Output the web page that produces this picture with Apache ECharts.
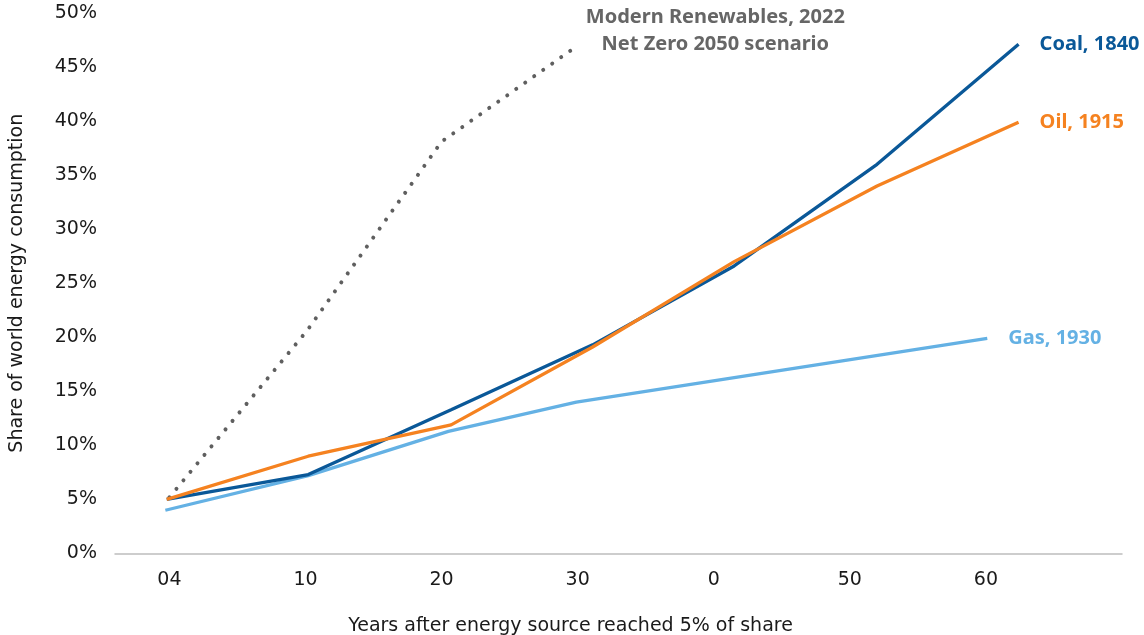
<!DOCTYPE html>
<html>
<head>
<meta charset="utf-8">
<script src="https://cdn.jsdelivr.net/npm/echarts@6/dist/echarts.min.js"></script>
<style>
html,body{margin:0;padding:0;background:#fff;}
#chart{width:1144px;height:635px;}
</style>
</head>
<body>
<div id="chart"></div>
<script>
// X tick positions (years) and their printed labels
const xTickValues = [0, 10, 20, 30, 40, 50, 60];
const xTickLabels = ['04', '10', '20', '30', '0', '50', '60'];

// Coal, 1840
const coalX = [-0.2, 10.2, 20.7, 31.1, 41.5, 52.0, 62.4];
const coalY = [5.0, 7.3, 13.3, 19.3, 26.6, 36.0, 47.1];
// Oil, 1915
const oilX = [-0.2, 10.2, 20.7, 31.1, 41.5, 52.0, 62.4];
const oilY = [5.0, 9.0, 11.9, 19.1, 27.0, 34.0, 39.9];
// Gas, 1930
const gasX = [-0.3, 10.2, 20.5, 29.9, 60.1];
const gasY = [4.0, 7.2, 11.3, 14.0, 19.9];
// Modern Renewables, 2022 Net Zero 2050 scenario
const renX = [0, 10.1, 20.0, 29.9];
const renY = [5.2, 20.6, 38.1, 46.9];

const pairs = (xs, ys) => xs.map((x, i) => [x, ys[i]]);

const FONT = 'DejaVu Sans';
const BOLD_FONT = 'Noto Sans';
const chart = echarts.init(document.getElementById('chart'));

function lineSeries(name, xs, ys, color, extra) {
  return Object.assign({
    type: 'line',
    name: name,
    data: pairs(xs, ys),
    showSymbol: false,
    symbol: 'none',
    lineStyle: { color: color, width: 3.3 },
    itemStyle: { color: color },
    endLabel: {
      show: true,
      formatter: '{a}',
      distance: 21,
      color: color,
      fontFamily: BOLD_FONT,
      fontWeight: 'bold',
      fontSize: 20
    },
    emphasis: { disabled: true },
    z: 2
  }, extra || {});
}

chart.setOption({
  animation: false,
  backgroundColor: '#ffffff',
  grid: { left: 115, right: 22, top: 13, bottom: 81.5, containLabel: false, outerBoundsMode: 'none' },
  xAxis: {
    type: 'value',
    min: -4,
    max: 70,
    splitLine: { show: false },
    axisLine: { show: true, lineStyle: { color: '#bdbdbd', width: 1.5 } },
    axisTick: { show: false },
    axisLabel: {
      customValues: xTickValues,
      formatter: function (v) {
        const i = xTickValues.indexOf(v);
        return i >= 0 ? xTickLabels[i] : '';
      },
      color: '#1a1a1a',
      fontFamily: FONT,
      fontSize: 19,
      margin: 17
    },
    name: 'Years after energy source reached 5% of share',
    nameLocation: 'middle',
    nameGap: 63,
    nameTextStyle: {
      color: '#1a1a1a',
      fontFamily: FONT,
      fontSize: 19,
      padding: [0, 96, 0, 0]
    }
  },
  yAxis: {
    type: 'value',
    min: 0,
    max: 50,
    interval: 5,
    splitLine: { show: false },
    axisLine: { show: false },
    axisTick: { show: false },
    axisLabel: {
      formatter: '{value}%',
      color: '#1a1a1a',
      fontFamily: FONT,
      fontSize: 19,
      margin: 18
    },
    name: 'Share of world energy consumption',
    nameLocation: 'middle',
    nameGap: 88,
    nameTextStyle: {
      color: '#1a1a1a',
      fontFamily: FONT,
      fontSize: 19
    }
  },
  series: [
    lineSeries('Modern Renewables, 2022\nNet Zero 2050 scenario', renX, renY, '#5f5f5f', {
      lineStyle: { color: '#5f5f5f', width: 4, type: [0.01, 11], cap: 'round' },
      endLabel: {
        show: true,
        formatter: '{a}',
        distance: 0,
        align: 'center',
        verticalAlign: 'middle',
        offset: [139, -16],
        lineHeight: 27,
        color: '#666666',
        fontFamily: BOLD_FONT,
        fontWeight: 'bold',
        fontSize: 20
      },
      z: 1
    }),
    lineSeries('Gas, 1930', gasX, gasY, '#64b1e4'),
    lineSeries('Coal, 1840', coalX, coalY, '#0a5898'),
    lineSeries('Oil, 1915', oilX, oilY, '#f58220', { z: 3 })
  ]
});
</script>
</body>
</html>
